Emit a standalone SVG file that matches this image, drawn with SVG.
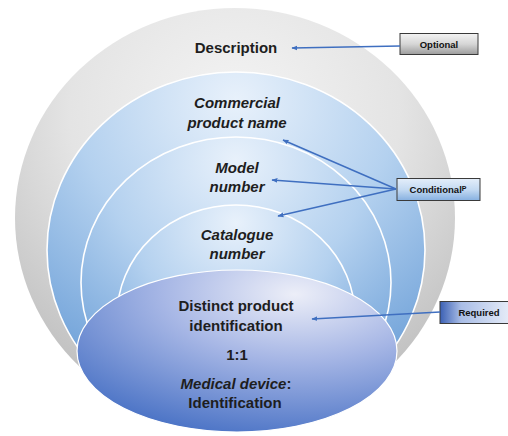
<svg xmlns="http://www.w3.org/2000/svg" width="508" height="436" viewBox="0 0 508 436">
<style>
.t{font-family:"Liberation Sans",Arial,sans-serif;font-weight:bold;fill:#1e1e1e;text-anchor:middle;font-size:15px}
.i{font-style:italic}
.lb{font-family:"Liberation Sans",Arial,sans-serif;font-weight:bold;fill:#111;text-anchor:middle;font-size:9.5px}
.ring{stroke:#ffffff;stroke-width:1.6;fill:url(#gBlue)}
.box{stroke:#3a3a3a;stroke-width:1}
.con{stroke:#3f6fc0;stroke-width:1.5;fill:none;marker-end:url(#arr)}
</style>
<defs>
<radialGradient id="gGray" cx="50%" cy="25%" r="75%">
<stop offset="0" stop-color="#f4f4f4"/>
<stop offset="0.5" stop-color="#e4e4e4"/>
<stop offset="1" stop-color="#bcbcbc"/>
</radialGradient>
<radialGradient id="gBlue" cx="50%" cy="8%" r="95%">
<stop offset="0" stop-color="#e8f1fb"/>
<stop offset="0.45" stop-color="#b4d1ef"/>
<stop offset="1" stop-color="#5f96d3"/>
</radialGradient>
<radialGradient id="gEll" cx="70%" cy="10%" r="95%" fx="68%" fy="15%">
<stop offset="0" stop-color="#eceef8"/>
<stop offset="0.45" stop-color="#a6b6e5"/>
<stop offset="1" stop-color="#4c74c6"/>
</radialGradient>
<linearGradient id="gOpt" x1="0" y1="0" x2="0" y2="1">
<stop offset="0" stop-color="#f4f4f4"/>
<stop offset="0.5" stop-color="#d6d6d6"/>
<stop offset="1" stop-color="#9c9c9c"/>
</linearGradient>
<linearGradient id="gCond" x1="0" y1="0" x2="0" y2="1">
<stop offset="0" stop-color="#e4eefa"/>
<stop offset="0.5" stop-color="#c4daf2"/>
<stop offset="1" stop-color="#86b0e0"/>
</linearGradient>
<linearGradient id="gReq" x1="0" y1="0" x2="1" y2="0">
<stop offset="0" stop-color="#3b60b4"/>
<stop offset="0.3" stop-color="#a9bde6"/>
<stop offset="1" stop-color="#e6ecf8"/>
</linearGradient>
<marker id="arr" viewBox="0 0 10 10" refX="9" refY="5" markerWidth="6" markerHeight="6" orient="auto" markerUnits="userSpaceOnUse">
<path d="M0,1 L10,5 L0,9 z" fill="#3f6fc0"/>
</marker>
</defs>

<g id="description">
<ellipse cx="235" cy="218" rx="220" ry="210" fill="url(#gGray)"/>
<text class="t" x="236" y="53">Description</text>
</g>
<g id="commercial">
<ellipse class="ring" cx="236" cy="250" rx="189" ry="178"/>
<text class="t i" x="237" y="108">Commercial</text>
<text class="t i" x="237" y="128">product name</text>
</g>
<g id="model">
<ellipse class="ring" cx="236" cy="282.5" rx="155" ry="145.5"/>
<text class="t i" x="237" y="173">Model</text>
<text class="t i" x="237" y="192">number</text>
</g>
<g id="catalogue">
<ellipse class="ring" cx="236" cy="316.5" rx="119" ry="111.5"/>
<text class="t i" x="237" y="240">Catalogue</text>
<text class="t i" x="237" y="259">number</text>
</g>
<g id="identification">
<ellipse cx="237" cy="351" rx="160" ry="81" fill="url(#gEll)" stroke="#ffffff" stroke-width="1.2"/>
<text class="t" x="236" y="311">Distinct product</text>
<text class="t" x="236" y="331">identification</text>
<text class="t" x="237" y="360">1:1</text>
<text class="t" x="236" y="389"><tspan class="i">Medical device</tspan>:</text>
<text class="t" x="235" y="408">Identification</text>
</g>

<g id="optional">
<rect class="box" x="400" y="33.5" width="78" height="21" fill="url(#gOpt)"/>
<text class="lb" x="439" y="47.5" font-size="10">Optional</text>
</g>
<g id="conditional">
<rect class="box" x="397" y="178.5" width="83" height="22" fill="url(#gCond)" stroke="#2c4470"/>
<text class="lb" x="438" y="193">Conditional<tspan font-size="7" dy="-2">P</tspan></text>
</g>
<g id="required">
<rect class="box" x="440" y="301.5" width="70" height="22" fill="url(#gReq)" stroke="#2c4470"/>
<text class="lb" x="479" y="316">Required</text>
</g>

<g id="connectors">
<line class="con" x1="400" y1="46" x2="292" y2="48"/>
<line class="con" x1="396" y1="189" x2="283" y2="140"/>
<line class="con" x1="396" y1="189" x2="272" y2="180"/>
<line class="con" x1="396" y1="189" x2="278" y2="216"/>
<line class="con" x1="440" y1="312" x2="312" y2="319"/>
</g>
</svg>
